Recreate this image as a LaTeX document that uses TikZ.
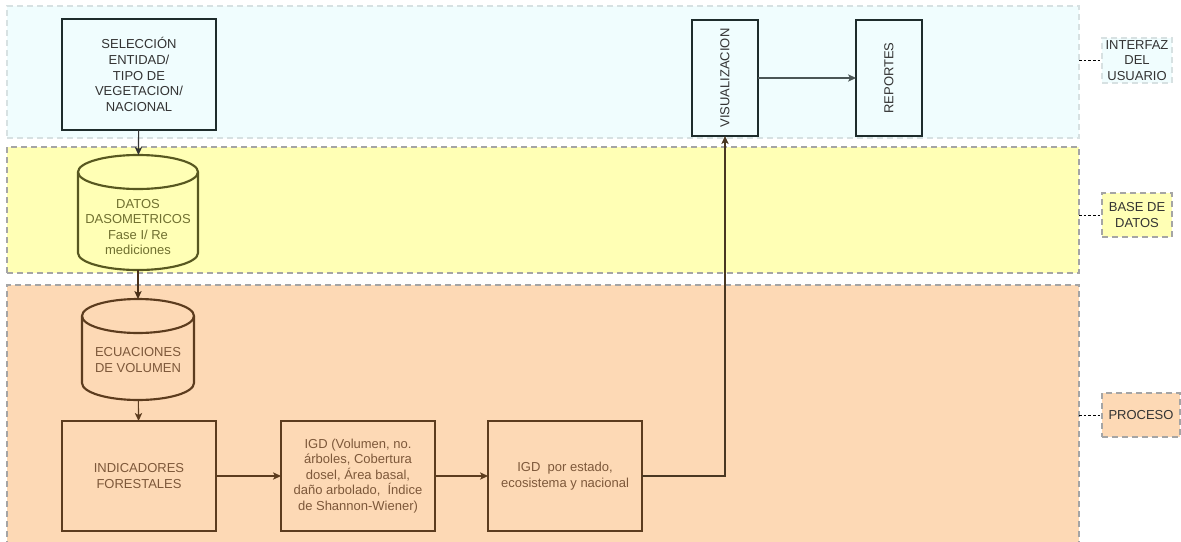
\documentclass[tikz,border=0pt]{standalone}
\usepackage{fontspec}
\setmainfont{Liberation Sans}
\usepackage{graphicx}
\usetikzlibrary{positioning, arrows.meta}

\definecolor{laneblue}{RGB}{240,253,254}
\definecolor{laneyellow}{RGB}{255,255,181}
\definecolor{laneorange}{RGB}{253,217,181}
\definecolor{lanegray}{RGB}{165,165,165}
\definecolor{lanelight}{RGB}{215,225,226}
\definecolor{brownline}{RGB}{92,60,30}
\definecolor{browntext}{RGB}{125,88,58}
\definecolor{oliveline}{RGB}{88,88,32}
\definecolor{olivetext}{RGB}{112,112,48}
\definecolor{darkline}{RGB}{30,44,44}
\definecolor{darktext}{RGB}{51,51,51}

\tikzset{
  every node/.style={font=\fontsize{9.75}{11.7}\selectfont, align=center, inner sep=0pt, outer sep=0pt},
  lane/.style={rectangle, draw=lanegray, line width=1.1pt, dash pattern=on 4.5pt off 3pt},
  tag/.style={lane, text=darktext},
  blubox/.style={rectangle, draw=darkline, line width=1.6pt, fill=laneblue, text=darktext},
  brnbox/.style={rectangle, draw=brownline, line width=1.6pt, fill=laneorange, text=browntext},
  drumline/.style={line width=1.6pt},
  drumtxt/.style={rectangle},
  flow/.style={-{Stealth[length=6pt, width=5.5pt, inset=1.5pt]}, line width=0.8pt},
  tagline/.style={line width=0.6pt, dash pattern=on 2pt off 1.5pt}
}

\begin{document}
\begin{tikzpicture}[x=0.75pt, y=-0.75pt]
  \useasboundingbox (0,0) rectangle (1181,542);

  % carriles
  \node[lane, draw=lanelight, fill=laneblue, minimum width=804pt, minimum height=99pt] (ui) at (543,72) {};
  \node[lane, fill=laneyellow, minimum width=804pt, minimum height=94.5pt] (db) at (543,210) {};
  \node[lane, fill=laneorange, minimum width=804pt, minimum height=195pt] (proc) at (543,415) {};

  % etiquetas de la derecha
  \node[tag, draw=lanelight, fill=laneblue, minimum width=52.5pt, minimum height=33.75pt] (uitag) at (1137,60.5) {INTERFAZ\\DEL\\USUARIO};
  \node[tag, fill=laneyellow, minimum width=52.5pt, minimum height=33pt] (dbtag) at (1137,215) {BASE DE\\DATOS};
  \node[tag, fill=laneorange, minimum width=58.5pt, minimum height=33pt] (proctag) at (1141,415) {PROCESO};

  \draw[tagline] (ui.east |- uitag.west) -- (uitag.west);
  \draw[tagline] (db.east |- dbtag.west) -- (dbtag.west);
  \draw[tagline] (proc.east |- proctag.west) -- (proctag.west);

  % interfaz
  \node[blubox, minimum width=115.5pt, minimum height=83.25pt] (sel) at (139,74.5) {SELECCIÓN\\ENTIDAD/\\TIPO DE\\VEGETACION/\\NACIONAL};
  \node[blubox, minimum width=49.5pt, minimum height=87pt] (vis) at (725,78) {\rotatebox{90}{VISUALIZACION}};
  \node[blubox, minimum width=49.5pt, minimum height=87pt] (rep) at (889,78) {\rotatebox{90}{REPORTES}};

  % base de datos
  \filldraw[drumline, draw=oliveline, fill=laneyellow] (78,172) -- (78,253)
    arc[start angle=180, end angle=360, x radius=45pt, y radius=12.75pt] -- (198,172)
    arc[start angle=0, end angle=180, x radius=45pt, y radius=12.75pt] -- cycle;
  \draw[drumline, draw=oliveline] (78,172) arc[start angle=180, end angle=360, x radius=45pt, y radius=12.75pt];
  \node[drumtxt, minimum width=90pt, minimum height=86.25pt,
    label={[olivetext, yshift=-10.9pt]center:{DATOS\\DASOMETRICOS\\Fase I/ Re\\mediciones}}] (datos) at (138,212.5) {};

  % proceso
  \filldraw[drumline, draw=brownline, fill=laneorange] (82,316) -- (82,383)
    arc[start angle=180, end angle=360, x radius=42pt, y radius=12.75pt] -- (194,316)
    arc[start angle=0, end angle=180, x radius=42pt, y radius=12.75pt] -- cycle;
  \draw[drumline, draw=brownline] (82,316) arc[start angle=180, end angle=360, x radius=42pt, y radius=12.75pt];
  \node[drumtxt, minimum width=84pt, minimum height=75.75pt,
    label={[browntext, yshift=-7.9pt]center:{ECUACIONES\\DE VOLUMEN}}] (ecu) at (138,349.5) {};

  \node[brnbox, minimum width=115.5pt, minimum height=82.5pt] (ind) at (139,476) {INDICADORES\\FORESTALES};
  \node[brnbox, minimum width=115.5pt, minimum height=82.5pt] (igd) at (358,476) {IGD (Volumen, no.\\árboles, Cobertura\\dosel, Área basal,\\daño arbolado, \ Índice\\de Shannon-Wiener)};
  \node[brnbox, minimum width=115.5pt, minimum height=82.5pt] (est) at (565,476) {IGD \ por estado,\\ecosistema y nacional};

  \draw[flow, darktext] (sel) -- (datos);
  \draw[flow, brownline!80!black] (datos) -- (ecu);
  \draw[flow, brownline] (ecu) -- (ind);
  \draw[flow, brownline] (ind) -- (igd);
  \draw[flow, brownline] (igd) -- (est);
  \draw[flow, brownline!70!darkline] (est.east) -| (vis.south);
  \draw[flow, darkline!80] (vis) -- (rep);
\end{tikzpicture}
\end{document}
